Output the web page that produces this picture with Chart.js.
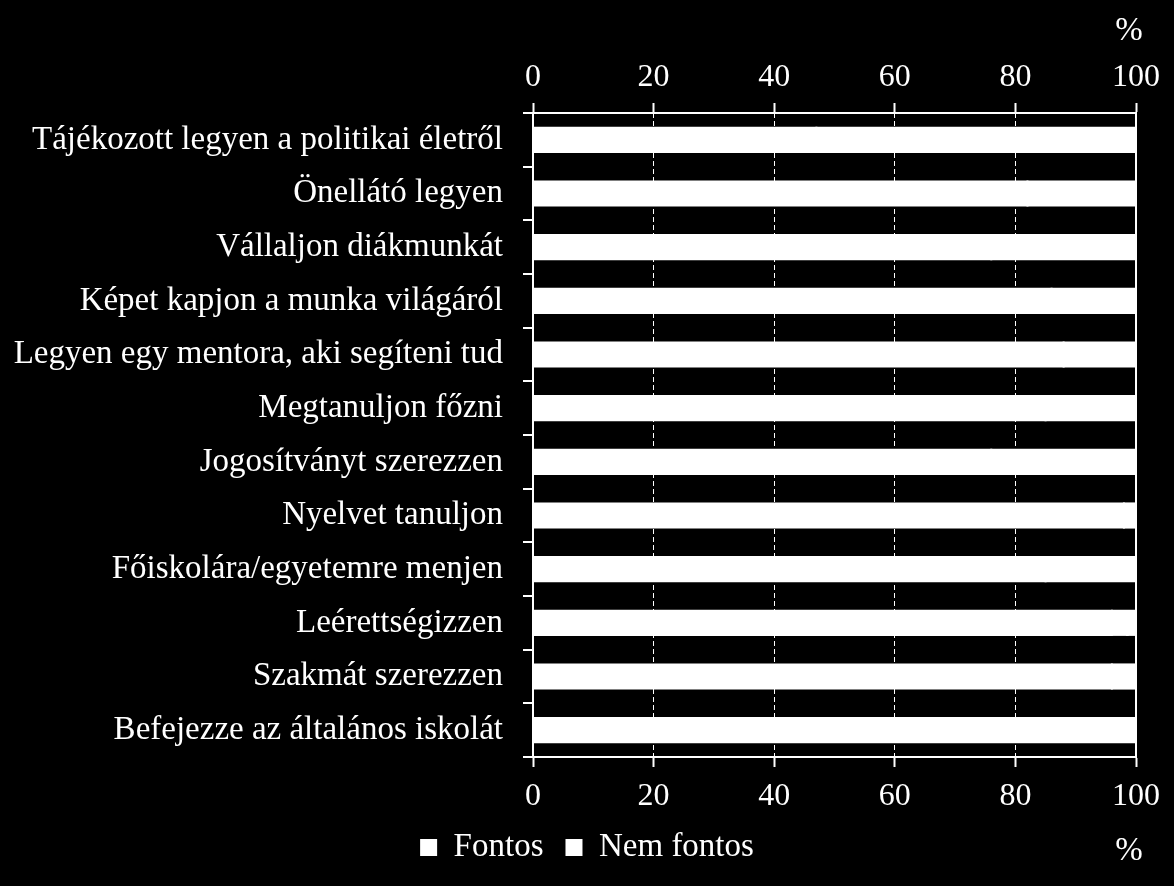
<!DOCTYPE html>
<html>
<head>
<meta charset="utf-8">
<script src="https://cdn.jsdelivr.net/npm/chart.js@4.4.0/dist/chart.umd.min.js"></script>
<style>
    html, body { margin: 0; padding: 0; background: #000; }
    #wrap { width: 1174px; height: 886px; }
</style>
</head>
<body>
<div id="wrap"><canvas id="myChart"></canvas></div>
<script>
const categories = [
    'Tájékozott legyen a politikai életről',
    'Önellátó legyen',
    'Vállaljon diákmunkát',
    'Képet kapjon a munka világáról',
    'Legyen egy mentora, aki segíteni tud',
    'Megtanuljon főzni',
    'Jogosítványt szerezzen',
    'Nyelvet tanuljon',
    'Főiskolára/egyetemre menjen',
    'Leérettségizzen',
    'Szakmát szerezzen',
    'Befejezze az általános iskolát',
];
const fontos = [47, 82, 76, 86, 88, 85, 76, 98, 85, 96, 96, 100];
const nemFontos = [53, 18, 24, 14, 12, 15, 24, 2, 15, 4, 4, 0];
const seriesNames = ['Fontos', 'Nem fontos'];
const xTicks = [0, 20, 40, 60, 80, 100];
const unitLabel = '%';

const serif = "'Times New Roman', 'Liberation Serif', serif";
Chart.defaults.font.family = serif;
Chart.defaults.font.size = 32;
Chart.defaults.color = '#fff';

// labels are white on white bars, only their lowest pixels peek out
const valueLabels = {
    id: 'valueLabels',
    afterDatasetsDraw(chart) {
        const ctx = chart.ctx;
        ctx.save();
        ctx.fillStyle = '#fff';
        ctx.font = '32px ' + serif;
        ctx.textAlign = 'center';
        ctx.textBaseline = 'alphabetic';
        chart.data.datasets.forEach((ds, di) => {
            chart.getDatasetMeta(di).data.forEach((bar, i) => {
                if (!ds.data[i]) return;
                ctx.fillText(ds.data[i], (bar.x + bar.base) / 2, bar.y + bar.height / 2 + 0.8);
            });
        });
        ctx.restore();
    },
};

const percentSigns = {
    id: 'percentSigns',
    afterDraw(chart) {
        const ctx = chart.ctx;
        const x = chart.scales.x.right - 7;
        const hit = chart.legend.legendHitBoxes[0];
        ctx.save();
        ctx.fillStyle = '#fff';
        ctx.font = '33px ' + serif;
        ctx.textAlign = 'center';
        ctx.textBaseline = 'middle';
        ctx.fillText(unitLabel, x, 31);
        ctx.fillText(unitLabel, x, hit.top + hit.height / 2 + 4);
        ctx.restore();
    },
};

function setTicks(scale) {
    scale.ticks = xTicks.map((v) => ({ value: v }));
}

function gridDash(ctx) {
    if (ctx.tick && ctx.tick.value > 0 && ctx.tick.value < 100) return [5, 3];
    return [];
}

const ctx = document.getElementById('myChart').getContext('2d');
const myChart = new Chart(ctx, {
    type: 'bar',
    data: {
        labels: categories,
        datasets: [
            {
                label: seriesNames[0],
                data: fontos,
                backgroundColor: '#fff',
                borderWidth: 0,
                inflateAmount: 1,
                barPercentage: 0.9,
                categoryPercentage: 0.5,
            },
            {
                label: seriesNames[1],
                data: nemFontos,
                backgroundColor: '#fff',
                borderWidth: 0,
                inflateAmount: 1,
                barPercentage: 0.9,
                categoryPercentage: 0.5,
            },
        ],
    },
    options: {
        indexAxis: 'y',
        responsive: true,
        maintainAspectRatio: false,
        animation: false,
        layout: { padding: { top: 0, right: 0, bottom: 12, left: 0 } },
        scales: {
            x: {
                type: 'linear',
                position: 'bottom',
                stacked: true,
                min: 0,
                max: 100,
                afterBuildTicks: setTicks,
                afterFit: (scale) => { scale.height = 52; },
                ticks: { padding: 10, color: '#fff', maxRotation: 0 },
                grid: {
                    color: '#fff',
                    lineWidth: 1,
                    drawOnChartArea: true,
                    drawTicks: true,
                    tickLength: 10,
                    tickWidth: 2,
                    tickColor: '#fff',
                    tickBorderDash: [],
                },
                border: { display: true, color: '#fff', width: 2, dash: gridDash },
            },
            x2: {
                type: 'linear',
                position: 'top',
                min: 0,
                max: 100,
                afterBuildTicks: setTicks,
                afterFit: (scale) => { scale.height = 113; },
                ticks: { padding: 6, color: '#fff', maxRotation: 0 },
                grid: {
                    color: '#fff',
                    drawOnChartArea: false,
                    drawTicks: true,
                    tickLength: 10,
                    tickWidth: 2,
                    tickColor: '#fff',
                },
                border: { display: true, color: '#fff', width: 2 },
            },
            y: {
                stacked: true,
                position: 'left',
                afterFit: (scale) => { scale.width = 533; },
                ticks: { padding: 20, color: '#fff', autoSkip: false, font: { size: 33 } },
                grid: {
                    offset: true,
                    color: '#fff',
                    lineWidth: 2,
                    drawOnChartArea: false,
                    drawTicks: true,
                    tickLength: 10,
                },
                border: { display: true, color: '#fff', width: 2 },
            },
            y2: {
                type: 'category',
                position: 'right',
                labels: categories,
                afterFit: (scale) => { scale.width = 38; },
                ticks: { display: false },
                grid: { display: false },
                border: { display: true, color: '#fff', width: 2 },
            },
        },
        plugins: {
            legend: {
                display: true,
                position: 'bottom',
                labels: {
                    color: '#fff',
                    boxWidth: 17,
                    boxHeight: 17,
                    padding: 22,
                    font: { size: 33, family: serif },
                },
            },
            tooltip: { enabled: false },
        },
    },
    plugins: [valueLabels, percentSigns],
});
</script>
</body>
</html>
